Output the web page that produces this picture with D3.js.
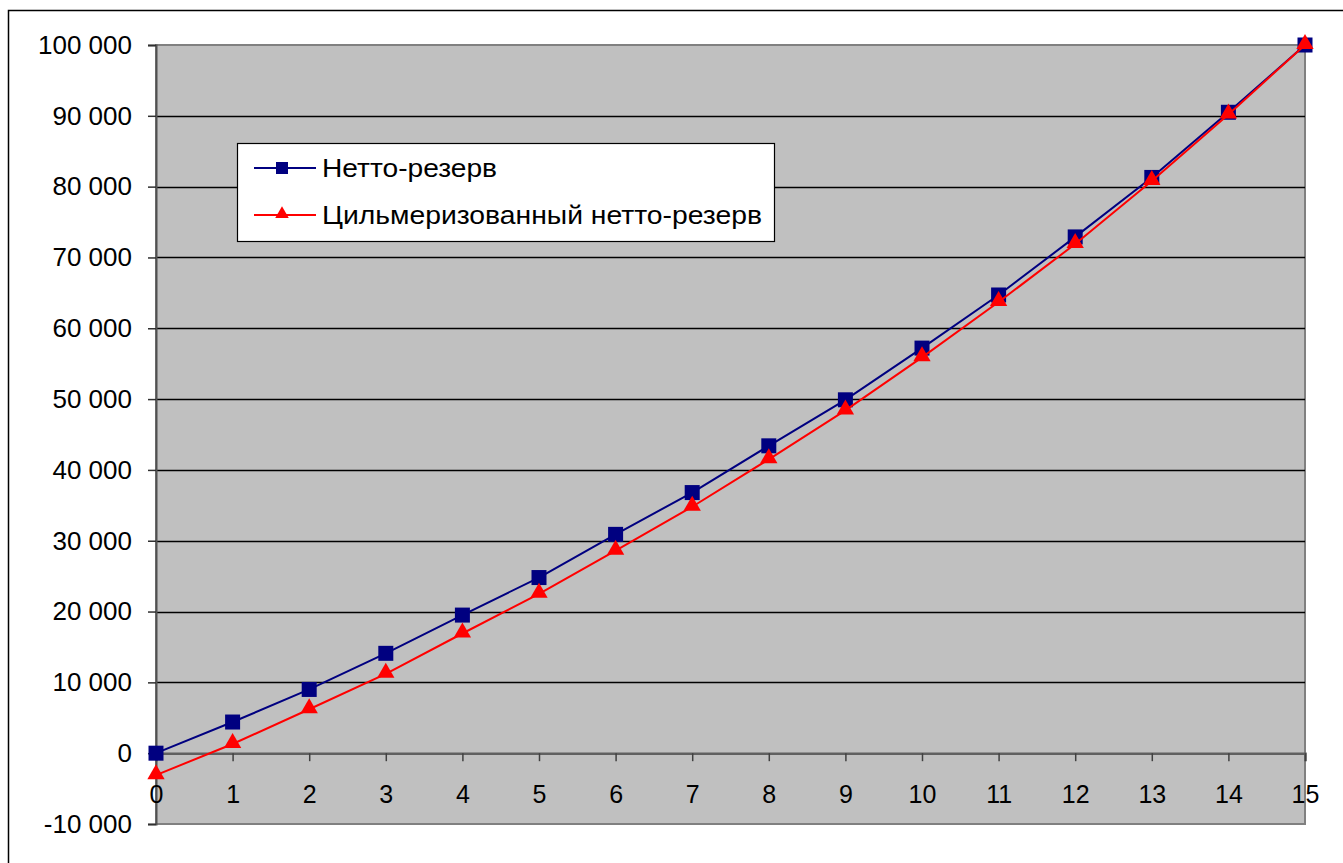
<!DOCTYPE html>
<html>
<head>
<meta charset="utf-8">
<script src="https://cdn.jsdelivr.net/npm/d3@7"></script>
<style>
  body { margin: 0; background: #fff; }
  text { font-family: "Liberation Sans", Arial, sans-serif; fill: #000; }
</style>
</head>
<body>
<div id="chart"></div>
<script>
// data
var years = [0, 1, 2, 3, 4, 5, 6, 7, 8, 9, 10, 11, 12, 13, 14, 15];
var nettoReserve = [0, 4400, 9000, 14100, 19500, 24800, 30900, 36800, 43400, 49900, 57200, 64700, 72900, 81300, 90500, 100000];
var zillmerReserve = [-3100, 1300, 6200, 11200, 16900, 22500, 28600, 34800, 41500, 48400, 55900, 63700, 71900, 80800, 90200, 100000];
var seriesNames = ["Нетто-резерв", "Цильмеризованный нетто-резерв"];
var yTicks = [-10000, 0, 10000, 20000, 30000, 40000, 50000, 60000, 70000, 80000, 90000, 100000];

var W = 1343, H = 863;
var plot = { left: 156, top: 45, right: 1305, bottom: 824 };

var svg = d3.select("#chart").append("svg")
    .attr("width", W)
    .attr("height", H);

// outer chart frame
svg.append("rect")
    .attr("x", 8.5).attr("y", 10.5)
    .attr("width", W).attr("height", H)
    .attr("fill", "#fff")
    .attr("stroke", "#000")
    .attr("stroke-width", 1.5);

var x = d3.scaleLinear().domain([0, 15]).range([plot.left, plot.right]);
var y = d3.scaleLinear().domain([-10000, 100000]).range([plot.bottom, plot.top]);

// plot area
svg.append("rect")
    .attr("x", plot.left).attr("y", plot.top)
    .attr("width", plot.right - plot.left)
    .attr("height", plot.bottom - plot.top)
    .attr("fill", "#c0c0c0")
    .attr("stroke", "#808080")
    .attr("stroke-width", 2);

// gridlines
svg.append("g").selectAll("line")
    .data(yTicks.filter(function (d) { return d !== 0 && d !== -10000 && d !== 100000; }))
    .enter().append("line")
    .attr("x1", plot.left).attr("x2", plot.right)
    .attr("y1", function (d) { return Math.round(y(d)) + 0.5; })
    .attr("y2", function (d) { return Math.round(y(d)) + 0.5; })
    .attr("stroke", "#000")
    .attr("stroke-width", 1.3);

// y axis, space as thousands separator and a plain hyphen for minus
var fmt = function (d) { return d3.format(",")(d).replace(/,/g, " ").replace("\u2212", "-"); };
var yAxis = d3.axisLeft(y)
    .tickValues(yTicks)
    .tickSize(8)
    .tickPadding(16)
    .tickFormat(fmt);

var gy = svg.append("g")
    .attr("transform", "translate(" + plot.left + ",0)")
    .call(yAxis);
gy.select(".domain").attr("stroke", "#505050").attr("stroke-width", 2);
gy.selectAll(".tick line").attr("stroke", "#303030").attr("stroke-width", 1.5);
gy.selectAll(".tick text")
    .style("font-size", "26px")
    .attr("font-family", "Liberation Sans, Arial, sans-serif")
    .attr("fill", "#000");

// x axis on the zero line, ticks point down into the plot
var xAxis = d3.axisBottom(x)
    .tickValues(years)
    .tickSize(8)
    .tickPadding(24)
    .tickFormat(d3.format("d"));

var gx = svg.append("g")
    .attr("transform", "translate(0," + y(0) + ")")
    .call(xAxis);
gx.select(".domain").attr("stroke", "#606060").attr("stroke-width", 2.5);
gx.selectAll(".tick line").attr("stroke", "#404040").attr("stroke-width", 1.5);
gx.selectAll(".tick text")
    .style("font-size", "25px")
    .attr("font-family", "Liberation Sans, Arial, sans-serif")
    .attr("fill", "#000");

var line = d3.line()
    .x(function (d) { return x(d[0]); })
    .y(function (d) { return y(d[1]); });

var blueData = years.map(function (d, i) { return [d, nettoReserve[i]]; });
var redData = years.map(function (d, i) { return [d, zillmerReserve[i]]; });

var blue = "#000080", red = "#ff0000";
var sq = 15;
var tri = d3.symbol().type(d3.symbolTriangle).size(130);
var triSmall = d3.symbol().type(d3.symbolTriangle).size(80);

// netto reserve
svg.append("path")
    .datum(blueData)
    .attr("d", line)
    .attr("fill", "none")
    .attr("stroke", blue)
    .attr("stroke-width", 2);

svg.append("g").selectAll("rect")
    .data(blueData)
    .enter().append("rect")
    .attr("x", function (d) { return x(d[0]) - sq / 2; })
    .attr("y", function (d) { return y(d[1]) - sq / 2; })
    .attr("width", sq).attr("height", sq)
    .attr("fill", blue);

// zillmerized reserve
svg.append("path")
    .datum(redData)
    .attr("d", line)
    .attr("fill", "none")
    .attr("stroke", red)
    .attr("stroke-width", 2);

svg.append("g").selectAll("path")
    .data(redData)
    .enter().append("path")
    .attr("d", tri)
    .attr("transform", function (d) { return "translate(" + x(d[0]) + "," + (y(d[1]) - 1) + ")"; })
    .attr("fill", red);

// legend
var lg = svg.append("g").attr("transform", "translate(237,143)");
lg.append("rect")
    .attr("x", 0.5).attr("y", 0.5)
    .attr("width", 537).attr("height", 98)
    .attr("fill", "#fff")
    .attr("stroke", "#000")
    .attr("stroke-width", 1.2);

var rows = [
    { name: seriesNames[0], color: blue, kind: "square", cy: 25, w: 175 },
    { name: seriesNames[1], color: red, kind: "triangle", cy: 72, w: 440 }
];

rows.forEach(function (r) {
    lg.append("line")
        .attr("x1", 17).attr("x2", 79)
        .attr("y1", r.cy).attr("y2", r.cy)
        .attr("stroke", r.color)
        .attr("stroke-width", 2);
    if (r.kind === "square") {
        lg.append("rect")
            .attr("x", 45 - 6).attr("y", r.cy - 6)
            .attr("width", 12).attr("height", 12)
            .attr("fill", r.color);
    } else {
        lg.append("path")
            .attr("d", triSmall)
            .attr("transform", "translate(45," + (r.cy - 1) + ")")
            .attr("fill", r.color);
    }
    lg.append("text")
        .attr("x", 85)
        .attr("y", r.cy + 9)
        .attr("textLength", r.w)
        .attr("lengthAdjust", "spacingAndGlyphs")
        .style("font-size", "26px")
        .text(r.name);
});
</script>
</body>
</html>
